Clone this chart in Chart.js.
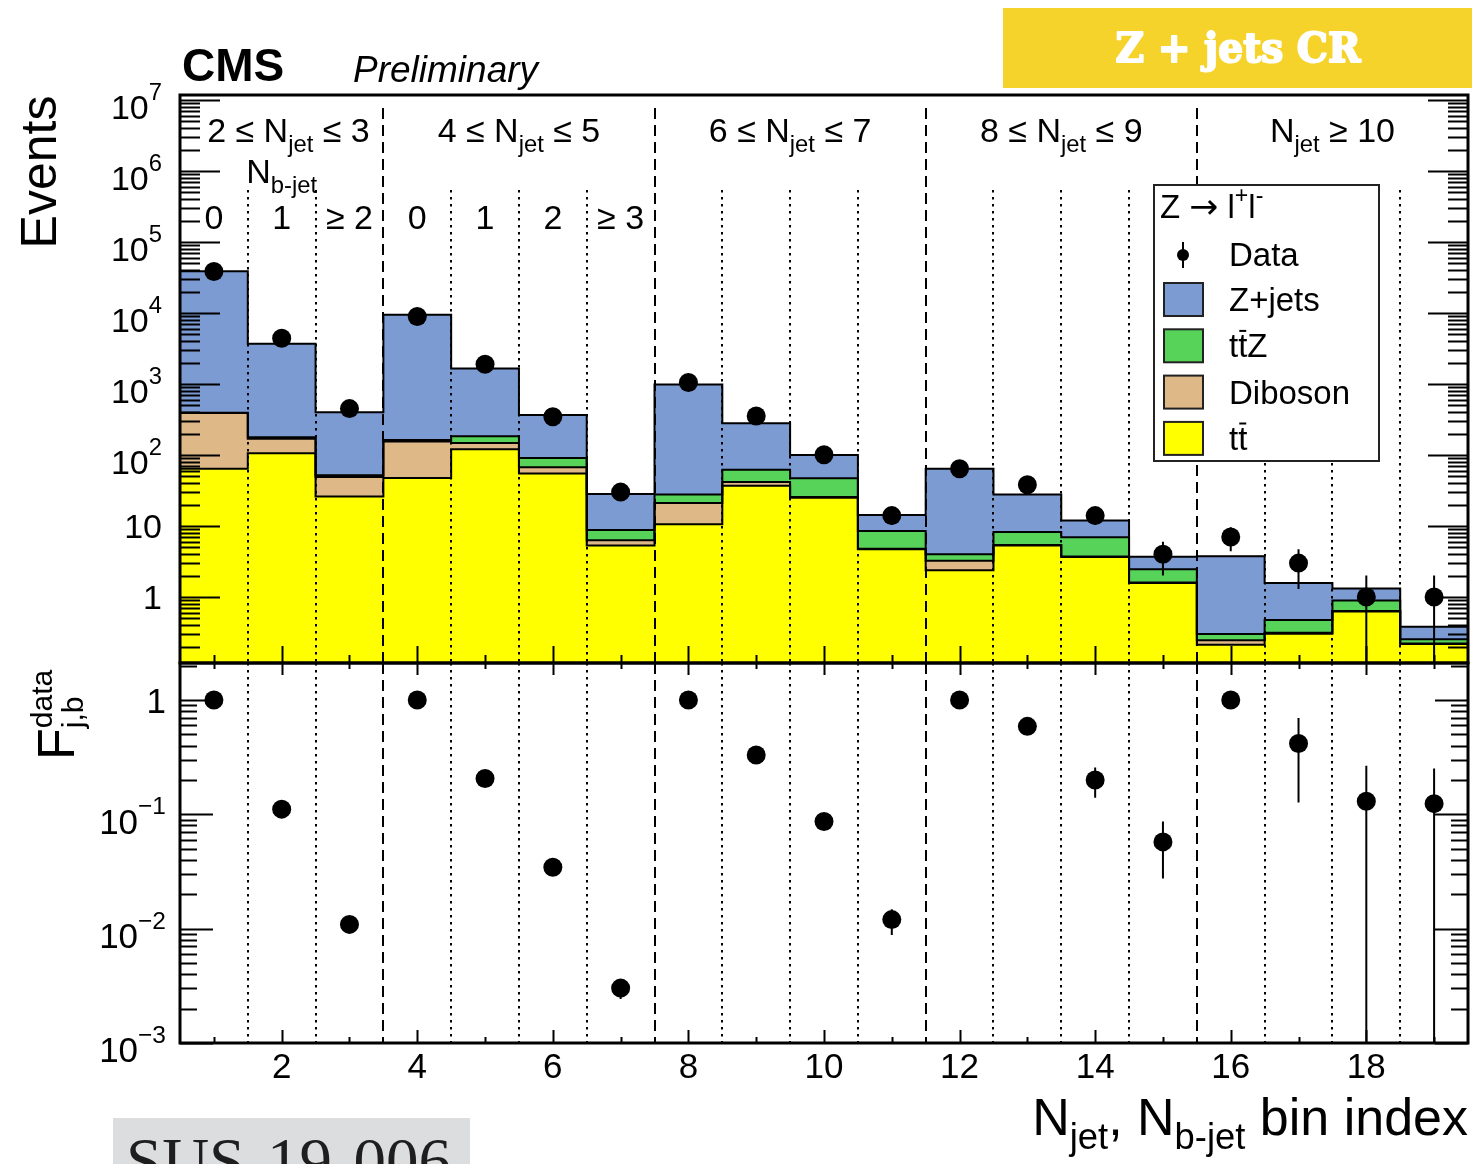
<!DOCTYPE html>
<html>
<head>
<meta charset="utf-8">
<title>Z + jets CR</title>
<script src="https://cdn.jsdelivr.net/npm/chart.js@4.4.1/dist/chart.umd.min.js"></script>
<style>
  html, body { margin: 0; padding: 0; background: #fff; }
  body { position: relative; width: 1474px; height: 1164px; overflow: hidden; }
  .pane { position: absolute; left: 0; width: 1474px; }
  #topPane { top: 0; height: 666px; }
  #ratioPane { top: 600px; height: 564px; }
</style>
</head>
<body>
<div class="pane" id="topPane"><canvas id="chartEvents"></canvas></div>
<div class="pane" id="ratioPane"><canvas id="chartRatio"></canvas></div>
<script>
// bin index 1..19 = (N_jet group, N_b-jet) categories
const bins = [1, 2, 3, 4, 5, 6, 7, 8, 9, 10, 11, 12, 13, 14, 15, 16, 17, 18, 19];
const binTicks = [2, 4, 6, 8, 10, 12, 14, 16, 18];
const eventTicks = [1, 10, 1e2, 1e3, 1e4, 1e5, 1e6, 1e7];
const fracTicks = [1e-3, 1e-2, 1e-1, 1];
const njetEdges = [3.5, 7.5, 11.5, 15.5];
const nbEdges = [1.5, 2.5, 4.5, 5.5, 6.5, 8.5, 9.5, 10.5, 12.5, 13.5, 14.5, 16.5, 17.5, 18.5];

// expected yields per process (stacked bottom to top)
const ttbar   = [64, 106, 26, 47.5, 120, 55, 5.3, 10.6, 36.9, 25, 4.7, 2.38, 5.3, 3.67, 1.58, 0.212, 0.304, 0.625, 0.217];
const diboson = [326, 64, 23, 107.5, 27, 12, 1.0, 10.4, 4.8, 0.6, 0.1, 0.87, 0.1, 0.05, 0.02, 0.033, 0.01, 0.01, 0.005];
const ttZ     = [5, 8, 3, 7, 36, 24, 2.5, 6.7, 20.3, 21.4, 3.7, 0.75, 2.8, 3.2, 0.86, 0.055, 0.16, 0.255, 0.032];
const zjets   = [38205, 3520, 348, 9300, 1467, 276, 19.5, 958, 217, 53, 5.8, 60, 19.5, 5.0, 1.24, 3.46, 1.1, 0.43, 0.126];

// observed events
const dataCounts = [38500, 4400, 450, 8900, 1900, 345, 30, 1050, 355, 101, 14, 64, 38, 14, 4, 7, 3, 1, 1];
const dataErr    = [196, 66, 21, 94, 44, 19, 5.5, 32, 19, 10, 3.7, 8, 6.2, 3.7, 2, 2.6, 1.7, 1, 1];

// F_{j,b}^{data}: fraction relative to the 0 b-jet bin of each N_jet group
const fraction     = [1, 0.111, 0.0109, 1, 0.206, 0.0344, 0.00302, 1, 0.33, 0.0865, 0.012, 1, 0.588, 0.2, 0.0574, 1, 0.417, 0.130, 0.124];
const fractionUp   = [0, 0.002, 0.0005, 0, 0.005, 0.002, 0.0006, 0, 0.02, 0.009, 0.0028, 0, 0.09, 0.057, 0.029, 0, 0.28, 0.136, 0.128];
const fractionDown = [0, 0.002, 0.0005, 0, 0.005, 0.002, 0.0006, 0, 0.02, 0.009, 0.0032, 0, 0.09, 0.06, 0.030, 0, 0.29, 0.13, 0.124];

const colors = { zjets: '#7b9bd2', ttZ: '#58d35a', diboson: '#deb887', ttbar: '#ffff00' };

const processes = [
  { name: 'tt', values: ttbar, color: colors.ttbar },
  { name: 'Diboson', values: diboson, color: colors.diboson },
  { name: 'ttZ', values: ttZ, color: colors.ttZ },
  { name: 'Z+jets', values: zjets, color: colors.zjets }
];

const njetLabels = [
  { x: 2.1, parts: [['2 \u2264 N'], ['jet', 'sub'], [' \u2264 3']] },
  { x: 5.5, parts: [['4 \u2264 N'], ['jet', 'sub'], [' \u2264 5']] },
  { x: 9.5, parts: [['6 \u2264 N'], ['jet', 'sub'], [' \u2264 7']] },
  { x: 13.5, parts: [['8 \u2264 N'], ['jet', 'sub'], [' \u2264 9']] },
  { x: 17.5, parts: [['N'], ['jet', 'sub'], [' \u2265 10']] }
];
const nbLabels = [
  { x: 1, text: '0' }, { x: 2, text: '1' }, { x: 3, text: '\u2265 2' },
  { x: 4, text: '0' }, { x: 5, text: '1' }, { x: 6, text: '2' }, { x: 7, text: '\u2265 3' }
];

const SANS = '"Liberation Sans", Arial, Helvetica, sans-serif';
const font = (size, style, family) => `${style || ''} ${size}px ${family || SANS}`;

// text with sub/superscripts and overbars, drawn left to right
function richText(ctx, x, y, parts, size, align, opt) {
  const o = Object.assign({ small: 0.7, rise: 0.45, drop: 0.3 }, opt);
  const pieces = parts.map(([t, kind]) => {
    const s = (kind === 'sub' || kind === 'sup') ? size * o.small : kind === 'arrow' ? size * 1.05 : size;
    const fam = kind === 'arrow' ? '"DejaVu Sans", sans-serif' : SANS;
    ctx.font = font(s, '', fam);
    return { t, s, kind, fam, w: ctx.measureText(t).width };
  });
  const total = pieces.reduce((a, p) => a + p.w, 0);
  let cx = align === 'right' ? x - total : align === 'center' ? x - total / 2 : x;
  ctx.textAlign = 'left';
  ctx.textBaseline = 'alphabetic';
  for (const p of pieces) {
    ctx.font = font(p.s, '', p.fam);
    const dy = p.kind === 'sup' ? -size * o.rise : p.kind === 'sub' ? size * o.drop : 0;
    ctx.fillText(p.t, cx, y + dy);
    if (p.kind === 'bar') {
      ctx.beginPath();
      ctx.lineWidth = Math.max(2, size * 0.06);
      ctx.moveTo(cx + p.w * 0.12, y - size * 0.8);
      ctx.lineTo(cx + p.w * 0.88, y - size * 0.8);
      ctx.stroke();
    }
    cx += p.w;
  }
  return total;
}

function powerLabel(ctx, value, xRight, yTick, size) {
  const exp = Math.round(Math.log10(value));
  if (exp === 0 || exp === 1) {
    richText(ctx, xRight, yTick + size * 0.36, [[exp === 0 ? '1' : '10']], size, 'right');
  } else {
    const e = exp < 0 ? '\u2212' + (-exp) : String(exp);
    richText(ctx, xRight, yTick + size * 0.55, [['10'], [e, 'sup']], size, 'right', { rise: 0.55 });
  }
}

function drawSeparators(ctx, xScale, area, dashTop, dotTop) {
  ctx.save();
  ctx.strokeStyle = '#000';
  ctx.lineWidth = 2;
  ctx.setLineDash([11, 6]);
  ctx.beginPath();
  njetEdges.forEach(e => {
    const px = Math.round(xScale.getPixelForValue(e));
    ctx.moveTo(px, dashTop); ctx.lineTo(px, area.bottom);
  });
  ctx.stroke();
  ctx.setLineDash([2.5, 4.5]);
  ctx.beginPath();
  nbEdges.forEach(e => {
    const px = Math.round(xScale.getPixelForValue(e));
    ctx.moveTo(px, dotTop); ctx.lineTo(px, area.bottom);
  });
  ctx.stroke();
  ctx.restore();
}

function drawErrorBars(ctx, chart, label, yScale, values, up, down) {
  const idx = chart.data.datasets.findIndex(d => d.label === label);
  const meta = chart.getDatasetMeta(idx);
  ctx.save();
  ctx.strokeStyle = '#000';
  ctx.lineWidth = 2;
  ctx.beginPath();
  meta.data.forEach((pt, i) => {
    if (!up[i] && !down[i]) return;
    const hi = yScale.getPixelForValue(values[i] + up[i]);
    const loVal = values[i] - down[i];
    const lo = loVal > yScale.min ? yScale.getPixelForValue(loVal) : yScale.bottom;
    ctx.moveTo(pt.x, hi); ctx.lineTo(pt.x, lo);
  });
  ctx.stroke();
  ctx.restore();
}

function drawLogTicks(ctx, scale, area, major, minor) {
  const lo = Math.floor(Math.log10(scale.min));
  const hi = Math.ceil(Math.log10(scale.max));
  ctx.beginPath();
  for (let e = lo; e <= hi; e++) {
    for (let m = 1; m <= 9; m++) {
      const v = m * Math.pow(10, e);
      if (v < scale.min * 0.999 || v > scale.max) continue;
      const py = Math.round(scale.getPixelForValue(v)) + 0.5;
      const len = m === 1 ? major : minor;
      ctx.moveTo(area.left, py); ctx.lineTo(area.left + len, py);
      ctx.moveTo(area.right, py); ctx.lineTo(area.right - len, py);
    }
  }
  ctx.lineWidth = 2;
  ctx.strokeStyle = '#000';
  ctx.stroke();
}

function drawBinTicks(ctx, xScale, yEdge, dir, evenLen, oddLen) {
  ctx.beginPath();
  bins.forEach(b => {
    const px = Math.round(xScale.getPixelForValue(b)) + 0.5;
    const len = b % 2 === 0 ? evenLen : oddLen;
    ctx.moveTo(px, yEdge); ctx.lineTo(px, yEdge + dir * len);
  });
  ctx.lineWidth = 2;
  ctx.strokeStyle = '#000';
  ctx.stroke();
}

function drawFrame(ctx, area) {
  ctx.lineWidth = 3;
  ctx.strokeStyle = '#000';
  ctx.strokeRect(area.left, area.top, area.right - area.left, area.bottom - area.top);
}

function drawLegend(ctx) {
  const left = 1154, top = 185, w = 225, h = 276;
  ctx.fillStyle = '#fff';
  ctx.fillRect(left, top, w, h);
  ctx.lineWidth = 2;
  ctx.strokeStyle = '#222';
  ctx.strokeRect(left, top, w, h);
  ctx.fillStyle = '#000';
  ctx.strokeStyle = '#000';
  richText(ctx, 1160, 218, [['Z '], ['\u2192', 'arrow'], [' l'], ['+', 'sup'], ['l'], ['-', 'sup']], 33, 'left');

  // Data entry: marker with error bar
  ctx.beginPath();
  ctx.lineWidth = 2;
  ctx.moveTo(1183, 242); ctx.lineTo(1183, 268);
  ctx.stroke();
  ctx.beginPath();
  ctx.arc(1183, 255, 6, 0, Math.PI * 2);
  ctx.fill();
  richText(ctx, 1229, 266, [['Data']], 33, 'left');

  const entries = [
    { color: colors.zjets, parts: [['Z+jets']] },
    { color: colors.ttZ, parts: [['t'], ['t', 'bar'], ['Z']] },
    { color: colors.diboson, parts: [['Diboson']] },
    { color: colors.ttbar, parts: [['t'], ['t', 'bar']] }
  ];
  entries.forEach((en, k) => {
    const by = 283 + k * 46.3;
    ctx.fillStyle = en.color;
    ctx.fillRect(1164, by, 39, 33);
    ctx.lineWidth = 2;
    ctx.strokeStyle = '#222';
    ctx.strokeRect(1164, by, 39, 33);
    ctx.fillStyle = '#000';
    ctx.strokeStyle = '#000';
    richText(ctx, 1229, by + 28, en.parts, 33, 'left');
  });
}

const topDecor = {
  id: 'topDecor',
  afterDatasetsDraw(chart) {
    const { ctx, chartArea: area, scales: { x, y } } = chart;
    ctx.save();
    drawSeparators(ctx, x, area, 108, 190);
    drawErrorBars(ctx, chart, 'Data', y, dataCounts, dataErr, dataErr);
    drawLogTicks(ctx, y, area, 40, 20);
    drawBinTicks(ctx, x, area.bottom, -1, 17, 8);
    drawFrame(ctx, area);

    ctx.fillStyle = '#000';
    ctx.strokeStyle = '#000';
    eventTicks.forEach(v => powerLabel(ctx, v, 162, y.getPixelForValue(v), 34));

    njetLabels.forEach(g => richText(ctx, x.getPixelForValue(g.x), 142, g.parts, 34, 'center'));
    richText(ctx, x.getPixelForValue(2), 183, [['N'], ['b-jet', 'sub']], 34, 'center');
    nbLabels.forEach(l => richText(ctx, x.getPixelForValue(l.x), 229, [[l.text]], 34, 'center'));

    // header
    ctx.font = font(46, 'bold');
    ctx.textAlign = 'left';
    ctx.textBaseline = 'alphabetic';
    ctx.fillText('CMS', 182, 81);
    ctx.font = font(37, 'italic');
    ctx.fillText('Preliminary', 353, 82);

    ctx.save();
    ctx.translate(56, 172);
    ctx.rotate(-Math.PI / 2);
    ctx.font = font(50);
    ctx.textAlign = 'center';
    ctx.fillText('Events', 0, 0);
    ctx.restore();

    // control-region tag
    ctx.fillStyle = '#f5d32a';
    ctx.fillRect(1003, 8, 469, 80);
    ctx.save();
    ctx.font = 'bold 41px "DejaVu Serif", serif';
    const tag = 'Z + jets CR';
    const tw = ctx.measureText(tag).width;
    ctx.translate(1238, 62);
    ctx.scale(245 / tw, 1);
    ctx.fillStyle = '#fff';
    ctx.strokeStyle = '#fff';
    ctx.lineWidth = 2;
    ctx.lineJoin = 'round';
    ctx.textAlign = 'center';
    ctx.strokeText(tag, 0, 0);
    ctx.fillText(tag, 0, 0);
    ctx.restore();

    drawLegend(ctx);
    ctx.restore();
  }
};

const ratioDecor = {
  id: 'ratioDecor',
  afterDatasetsDraw(chart) {
    const { ctx, chartArea: area, scales: { x, y } } = chart;
    ctx.save();
    drawSeparators(ctx, x, area, area.top, area.top);
    drawErrorBars(ctx, chart, 'F', y, fraction, fractionUp, fractionDown);
    drawLogTicks(ctx, y, area, 33, 17);
    drawBinTicks(ctx, x, area.top, 1, 12, 6);
    drawBinTicks(ctx, x, area.bottom, -1, 13, 6);
    drawFrame(ctx, area);

    ctx.fillStyle = '#000';
    ctx.strokeStyle = '#000';
    fracTicks.forEach(v => powerLabel(ctx, v, 166, y.getPixelForValue(v), 35));
    binTicks.forEach(b => richText(ctx, x.getPixelForValue(b), area.bottom + 35, [[String(b)]], 35, 'center'));

    // y title F_{j,b}^{data}
    ctx.save();
    ctx.translate(74, 160);
    ctx.rotate(-Math.PI / 2);
    ctx.font = font(52);
    ctx.textAlign = 'left';
    ctx.fillText('F', 0, 0);
    const fw = ctx.measureText('F').width;
    ctx.font = font(30);
    ctx.fillText('data', fw, -22);
    ctx.fillText('j,b', fw, 9);
    ctx.restore();

    // x title
    richText(ctx, 1468, 535, [['N'], ['jet', 'sub'], [', N'], ['b-jet', 'sub'], [' bin index']], 52, 'right', { small: 0.7, drop: 0.27 });

    // analysis reference box
    ctx.fillStyle = '#dcdddf';
    ctx.fillRect(113, 518, 357, 60);
    ctx.fillStyle = '#1e1e1e';
    ctx.font = '65px "Liberation Serif", "DejaVu Serif", serif';
    ctx.textAlign = 'left';
    ctx.fillText('SUS-19-006', 126, 583);
    ctx.restore();
  }
};

const outline = values => {
  const pts = bins.map((b, i) => ({ x: b - 0.5, y: values[i] }));
  pts.push({ x: bins[bins.length - 1] + 0.5, y: values[values.length - 1] });
  return pts;
};
const cumulative = processes.map((_, k) =>
  bins.map((_, i) => processes.slice(0, k + 1).reduce((s, p) => s + p.values[i], 0)));

const linearBins = {
  type: 'linear', display: false, min: 0.5, max: 19.5, offset: false, bounds: 'data',
  afterBuildTicks: s => { s.ticks = binTicks.map(v => ({ value: v })); }
};

new Chart(document.getElementById('chartEvents'), {
  type: 'bar',
  data: {
    datasets: [
      ...processes.map(p => ({
        type: 'bar',
        label: p.name,
        data: bins.map((b, i) => ({ x: b, y: p.values[i] })),
        backgroundColor: p.color,
        borderWidth: 0,
        stack: 'mc',
        barPercentage: 1,
        categoryPercentage: 1,
        order: 3
      })),
      ...cumulative.map((c, k) => ({
        type: 'line',
        label: processes[k].name + ' outline',
        data: outline(c),
        stepped: 'before',
        borderColor: '#000',
        borderWidth: 2,
        pointRadius: 0,
        fill: false,
        order: 2
      })),
      {
        type: 'line',
        label: 'Data',
        data: bins.map((b, i) => ({ x: b, y: dataCounts[i] })),
        showLine: false,
        pointRadius: 9.5,
        pointBackgroundColor: '#000',
        pointBorderWidth: 0,
        order: 1
      }
    ]
  },
  options: {
    responsive: true,
    maintainAspectRatio: false,
    devicePixelRatio: 1,
    animation: false,
    events: [],
    layout: { autoPadding: false, padding: { left: 180, top: 95, right: 6, bottom: 3 } },
    scales: {
      x: linearBins,
      y: { type: 'logarithmic', display: false, min: 0.1176, max: 1.175e7, bounds: 'data' }
    },
    plugins: { legend: { display: false }, tooltip: { enabled: false } }
  },
  plugins: [topDecor]
});

new Chart(document.getElementById('chartRatio'), {
  type: 'line',
  data: {
    datasets: [{
      label: 'F',
      data: bins.map((b, i) => ({ x: b, y: fraction[i] })),
      showLine: false,
      pointRadius: 9.5,
      pointBackgroundColor: '#000',
      pointBorderWidth: 0
    }]
  },
  options: {
    responsive: true,
    maintainAspectRatio: false,
    devicePixelRatio: 1,
    animation: false,
    events: [],
    layout: { autoPadding: false, padding: { left: 180, top: 63, right: 6, bottom: 121 } },
    scales: {
      x: Object.assign({}, linearBins),
      y: { type: 'logarithmic', display: false, min: 0.001, max: 2.107, bounds: 'data' }
    },
    plugins: { legend: { display: false }, tooltip: { enabled: false } }
  },
  plugins: [ratioDecor]
});
</script>
</body>
</html>
